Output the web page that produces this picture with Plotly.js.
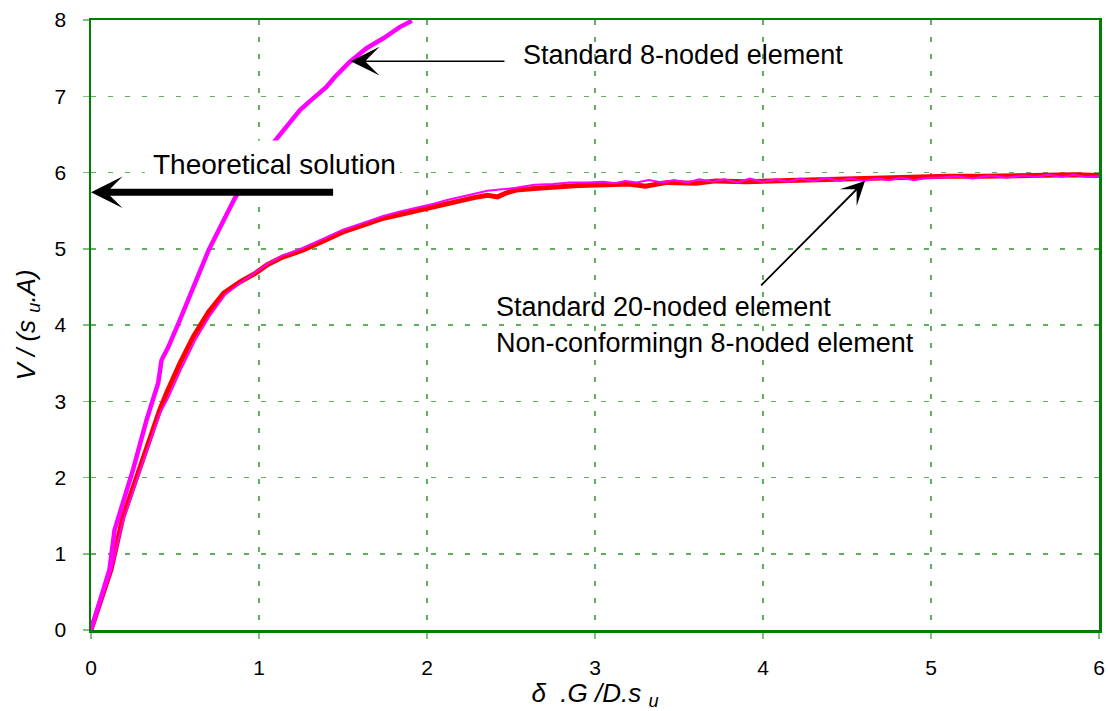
<!DOCTYPE html>
<html>
<head>
<meta charset="utf-8">
<script src="https://cdn.plot.ly/plotly-3.0.1.min.js"></script>
<style>html,body{margin:0;padding:0;background:#fff;}#chart{width:1108px;height:711px;}</style>
</head>
<body>
<div id="chart"></div>
<script>
// Standard 8-noded element (thick magenta)
const xStd8 = [0, 0.06, 0.11, 0.14, 0.20, 0.25, 0.33, 0.40, 0.42, 0.46, 0.53, 0.62, 0.70, 0.78, 0.86, 0.95, 1.03, 1.085, 1.20, 1.244, 1.30, 1.363, 1.40, 1.45, 1.54, 1.64, 1.74, 1.84, 1.91];
const yStd8 = [0, 0.42, 0.79, 1.31, 1.72, 2.10, 2.75, 3.24, 3.54, 3.71, 4.07, 4.55, 4.98, 5.33, 5.68, 5.97, 6.22, 6.39, 6.70, 6.82, 6.93, 7.06, 7.12, 7.25, 7.45, 7.63, 7.76, 7.91, 7.99];

// Standard 20-noded element (thick red)
const xStd20 = [0, 0.06, 0.12, 0.19, 0.29, 0.41, 0.45, 0.53, 0.61, 0.70, 0.79, 0.89, 0.98, 1.05, 1.14, 1.26, 1.38, 1.50, 1.62, 1.74, 1.84, 1.94, 2.04, 2.12, 2.20, 2.28, 2.36, 2.42, 2.47, 2.53, 2.64, 2.75, 2.90, 3.07, 3.20, 3.30, 3.43, 3.60, 3.72, 3.90, 4.05, 4.22, 4.40, 4.62, 4.80, 4.92, 5.10, 5.30, 5.50, 5.70, 5.85, 6.0];
const yStd20 = [0, 0.40, 0.80, 1.48, 2.14, 2.89, 3.11, 3.50, 3.85, 4.17, 4.42, 4.57, 4.68, 4.79, 4.89, 4.98, 5.10, 5.22, 5.31, 5.40, 5.45, 5.50, 5.55, 5.60, 5.64, 5.67, 5.70, 5.68, 5.73, 5.77, 5.79, 5.81, 5.83, 5.84, 5.85, 5.82, 5.87, 5.86, 5.89, 5.88, 5.89, 5.90, 5.91, 5.92, 5.93, 5.94, 5.95, 5.95, 5.96, 5.97, 5.97, 5.96];

// Non-conforming 8-noded element (thin magenta)
const xNonConf = [0, 0.06, 0.12, 0.19, 0.29, 0.41, 0.46, 0.54, 0.62, 0.71, 0.80, 0.90, 0.98, 1.05, 1.14, 1.26, 1.38, 1.50, 1.62, 1.74, 1.84, 1.94, 2.04, 2.12, 2.20, 2.28, 2.36, 2.45, 2.53, 2.64, 2.75, 2.85, 2.95, 3.05, 3.12, 3.18, 3.25, 3.32, 3.40, 3.47, 3.55, 3.62, 3.70, 3.77, 3.85, 3.92, 4.00, 4.08, 4.15, 4.22, 4.30, 4.38, 4.45, 4.52, 4.60, 4.68, 4.75, 4.82, 4.90, 4.98, 5.05, 5.15, 5.25, 5.35, 5.45, 5.55, 5.62, 5.70, 5.78, 5.85, 5.92, 6.0];
const yNonConf = [0, 0.40, 0.78, 1.42, 2.08, 2.84, 3.05, 3.44, 3.80, 4.13, 4.40, 4.57, 4.69, 4.80, 4.91, 5.01, 5.13, 5.25, 5.34, 5.43, 5.49, 5.54, 5.59, 5.64, 5.68, 5.72, 5.76, 5.78, 5.80, 5.84, 5.85, 5.87, 5.87, 5.88, 5.86, 5.89, 5.87, 5.90, 5.87, 5.90, 5.87, 5.91, 5.88, 5.91, 5.87, 5.92, 5.88, 5.91, 5.88, 5.92, 5.89, 5.93, 5.89, 5.92, 5.89, 5.92, 5.90, 5.93, 5.90, 5.93, 5.93, 5.95, 5.92, 5.96, 5.93, 5.96, 5.94, 5.97, 5.94, 5.97, 5.94, 5.95];

const xTickVals = [0, 1, 2, 3, 4, 5, 6];
const yTickVals = [0, 1, 2, 3, 4, 5, 6, 7, 8];

const FONT = 'Liberation Sans, Arial, sans-serif';
const GREEN = '#008000';
const GRID = 'rgb(95,175,95)';

const traces = [
  {x: xStd20, y: yStd20, type: 'scatter', mode: 'lines', name: 'Standard 20-noded element',
   line: {color: '#ff0000', width: 5}},
  {x: xNonConf, y: yNonConf, type: 'scatter', mode: 'lines', name: 'Non-conformingn 8-noded element',
   line: {color: '#ff00ff', width: 2}},
  {x: xStd8, y: yStd8, type: 'scatter', mode: 'lines', name: 'Standard 8-noded element',
   line: {color: '#ff00ff', width: 4.5}}
];

const axisCommon = {
  showline: true, mirror: true, linecolor: GREEN, linewidth: 2.5,
  showgrid: true, gridcolor: GRID, gridwidth: 1.5, griddash: '5px,12px',
  zeroline: false, ticks: 'outside', ticklen: 6, tickwidth: 1.5, tickcolor: '#7fbf7f',
  tickfont: {family: FONT, size: 21, color: '#000'}
};

const layout = {
  width: 1108, height: 711,
  margin: {l: 91, r: 9, t: 20, b: 81},
  paper_bgcolor: '#fff', plot_bgcolor: '#fff',
  showlegend: false,
  font: {family: FONT, color: '#000'},
  xaxis: Object.assign({}, axisCommon, {
    range: [0, 6], tickvals: xTickVals, ticktext: xTickVals.map(String),
    ticklabelstandoff: 11,
    title: {text: '<i>δ  .G /D.s <sub>u</sub></i>', font: {family: FONT, size: 26}, standoff: 4}
  }),
  yaxis: Object.assign({}, axisCommon, {
    range: [0, 8], tickvals: yTickVals, ticktext: yTickVals.map(String),
    ticklabelstandoff: 12,
    title: {text: '<i>V / (s <sub>u</sub>.A)</i>', font: {family: FONT, size: 26}, standoff: 12}
  }),
  shapes: [
    {type: 'rect', layer: 'above', xref: 'x', yref: 'y', x0: 0.32, x1: 1.84, y0: 5.74, y1: 6.42,
     fillcolor: '#fff', line: {width: 0}}
  ],
  annotations: [
    {x: 1.546, y: 7.46, ax: 2.47, ay: 7.46, xref: 'x', yref: 'y', axref: 'x', ayref: 'y',
     text: '', showarrow: true, arrowhead: 3, arrowwidth: 1.5, arrowsize: 3.2, arrowcolor: '#000'},
    {x: 2.56, y: 7.54, xref: 'x', yref: 'y', text: 'Standard 8-noded element', showarrow: false,
     xanchor: 'left', yanchor: 'middle', font: {family: FONT, size: 27, color: '#000'}},
    {x: 0.36, y: 6.11, xref: 'x', yref: 'y', text: 'Theoretical solution', showarrow: false,
     xanchor: 'left', yanchor: 'middle', font: {family: FONT, size: 28, color: '#000'}},
    {x: 0, y: 5.74, ax: 1.45, ay: 5.74, xref: 'x', yref: 'y', axref: 'x', ayref: 'y',
     text: '', showarrow: true, arrowhead: 3, arrowwidth: 7, arrowsize: 0.75, arrowcolor: '#000'},
    {x: 4.607, y: 5.89, ax: 3.98, ay: 4.50, xref: 'x', yref: 'y', axref: 'x', ayref: 'y',
     text: '', showarrow: true, arrowhead: 3, arrowwidth: 1.8, arrowsize: 2.2, arrowcolor: '#000'},
    {x: 2.40, y: 4.24, xref: 'x', yref: 'y', text: 'Standard 20-noded element', showarrow: false,
     xanchor: 'left', yanchor: 'middle', font: {family: FONT, size: 27, color: '#000'}},
    {x: 2.40, y: 3.76, xref: 'x', yref: 'y', text: 'Non-conformingn 8-noded element', showarrow: false,
     xanchor: 'left', yanchor: 'middle', font: {family: FONT, size: 27, color: '#000'}}
  ]
};

Plotly.newPlot('chart', traces, layout, {staticPlot: true, displayModeBar: false});
</script>
</body>
</html>
